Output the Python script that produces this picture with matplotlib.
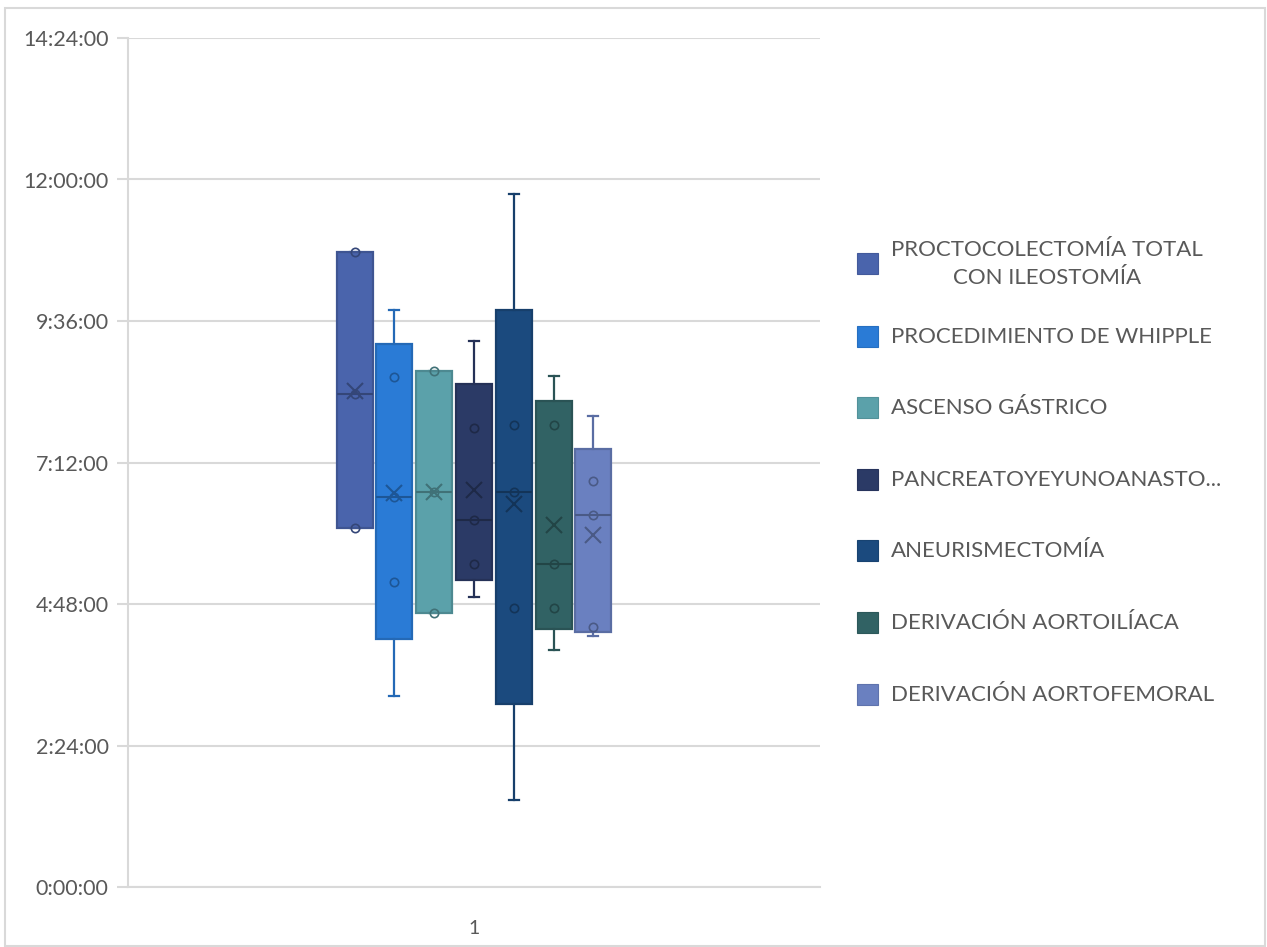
import matplotlib
matplotlib.use("Agg")
import matplotlib.pyplot as plt
import matplotlib.colors as mcolors
from matplotlib.patches import Rectangle
import numpy as np

# Surgery durations (H:MM), one list per procedure
proctocolectomia = ["10:46", "8:22", "6:05"]
whipple = ["9:47", "8:39", "6:37", "5:10", "3:14"]
ascenso_gastrico = ["8:45", "6:42", "4:39"]
pancreatoyeyuno = ["9:16", "7:47", "6:13", "5:29", "4:55"]
aneurismectomia = ["11:45", "7:50", "6:42", "4:44", "1:29"]
derivacion_aortoiliaca = ["8:40", "7:50", "5:29", "4:44", "4:01"]
derivacion_aortofemoral = ["7:59", "6:53", "6:19", "4:25", "4:15"]

labels = [
    "PROCTOCOLECTOMÍA TOTAL\nCON ILEOSTOMÍA",
    "PROCEDIMIENTO DE WHIPPLE",
    "ASCENSO GÁSTRICO",
    "PANCREATOYEYUNOANASTO...",
    "ANEURISMECTOMÍA",
    "DERIVACIÓN AORTOILÍACA",
    "DERIVACIÓN AORTOFEMORAL",
]
series = [proctocolectomia, whipple, ascenso_gastrico, pancreatoyeyuno,
          aneurismectomia, derivacion_aortoiliaca, derivacion_aortofemoral]
colors = ["#4A64AC", "#2A7BD6", "#5BA1AA", "#2B3A66",
          "#1B4A7E", "#316264", "#6A80C0"]
category_label = "1"


def to_hours(s):
    h, m = s.split(":")
    return int(h) + int(m) / 60.0


def darker(c, f=0.8):
    r, g, b = mcolors.to_rgb(c)
    return (r * f, g * f, b * f)


def excel_stats(vals):
    # Excel box & whisker: exclusive quartiles, whiskers within 1.5 IQR
    v = np.sort(np.asarray(vals))
    q1, med, q3 = np.percentile(v, [25, 50, 75], method="weibull")
    iqr = q3 - q1
    lo = v[v >= q1 - 1.5 * iqr].min()
    hi = v[v <= q3 + 1.5 * iqr].max()
    return dict(med=med, q1=q1, q3=q3, whislo=lo, whishi=hi,
                mean=v.mean(), fliers=[])


def fmt_time(y, pos=None):
    total = int(round(y * 3600))
    return f"{total // 3600}:{(total % 3600) // 60:02d}:{total % 60:02d}"


plt.rcParams['font.family'] = ['Lato', 'DejaVu Sans']
text_color = "#595959"
grid_color = "#D9D9D9"

fig = plt.figure(figsize=(12.67, 9.47), dpi=100)
ax = fig.add_axes([128 / 1267, 1 - 887 / 947, 692 / 1267, 849 / 947])

step = 0.0575
offsets = (np.arange(len(series)) - (len(series) - 1) / 2) * step

for i, (vals, col) in enumerate(zip(series, colors)):
    hours = [to_hours(s) for s in vals]
    st = excel_stats(hours)
    edge = darker(col, 0.85)
    dark = darker(col, 0.7)
    ax.bxp([st], positions=[offsets[i]], widths=0.052, patch_artist=True,
           showmeans=True, showfliers=False, manage_ticks=False,
           capwidths=0.0145,
           boxprops=dict(facecolor=col, edgecolor=edge, linewidth=1.6),
           whiskerprops=dict(color=edge, linewidth=1.6),
           capprops=dict(color=edge, linewidth=1.6),
           medianprops=dict(color=dark, linewidth=1.5),
           meanprops=dict(marker="x", markeredgecolor=dark, markersize=12,
                          markeredgewidth=1.5))
    inner = [h for h in hours if st["q1"] - 1e-9 <= h <= st["q3"] + 1e-9]
    ax.plot([offsets[i]] * len(inner), inner, linestyle="none", marker="o",
            markersize=6, markerfacecolor="none", markeredgecolor=dark,
            markeredgewidth=1.2, zorder=4)

ax.set_xlim(-0.5, 0.5)
ax.set_ylim(0, 14.4)
ax.set_yticks(np.arange(0, 14.41, 2.4))
ax.yaxis.set_major_formatter(plt.FuncFormatter(fmt_time))
ax.set_xticks([0])
ax.set_xticklabels([category_label])
ax.tick_params(axis="x", length=0, pad=24, labelsize=14, labelcolor=text_color)
ax.tick_params(axis="y", length=8, width=1.5, color=grid_color, pad=6,
               labelsize=15.5, labelcolor=text_color)
ax.grid(axis="y", color=grid_color, linewidth=1.5)
ax.set_axisbelow(True)
for side in ["top", "right"]:
    ax.spines[side].set_visible(False)
for side in ["left", "bottom"]:
    ax.spines[side].set_color(grid_color)
    ax.spines[side].set_linewidth(1.5)

# Legend drawn by hand to match the spacing
legend_y = [264, 337, 408, 480, 551, 623, 695]
for lab, col, yp in zip(labels, colors, legend_y):
    fig.patches.append(Rectangle((857 / 1267, 1 - (yp + 10) / 947), 21 / 1267, 21 / 947,
                                 transform=fig.transFigure, facecolor=col,
                                 edgecolor=darker(col, 0.9), linewidth=0.8))
    fig.text(891 / 1267, 1 - yp / 947, lab, ha="left", va="center",
             multialignment="center", fontsize=16, color=text_color,
             linespacing=1.5)

# Chart border
fig.patches.append(Rectangle((5 / 1267, 1 / 947), 1260 / 1267, 938 / 947,
                             transform=fig.transFigure, facecolor="none",
                             edgecolor=grid_color, linewidth=1.5))

fig.savefig("out.png", dpi=100)
